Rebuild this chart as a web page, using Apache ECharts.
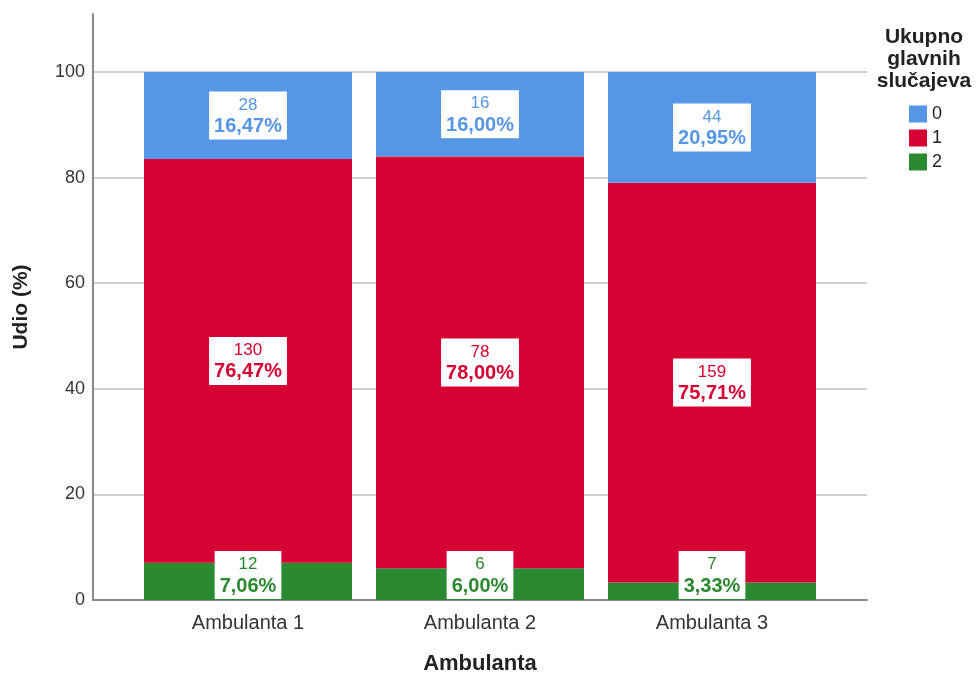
<!DOCTYPE html>
<html>
<head>
<meta charset="utf-8">
<script src="https://cdn.jsdelivr.net/npm/echarts@6/dist/echarts.min.js"></script>
<style>html,body{margin:0;padding:0;background:#fff}#c{width:978px;height:674px}</style>
</head>
<body>
<div id="c"></div>
<script>
const categories = ['Ambulanta 1', 'Ambulanta 2', 'Ambulanta 3'];
const seriesNames = ['0', '1', '2'];
const counts0 = [28, 16, 44];
const counts1 = [130, 78, 159];
const counts2 = [12, 6, 7];
const pct0 = [16.47, 16.00, 20.95];
const pct1 = [76.47, 78.00, 75.71];
const pct2 = [7.06, 6.00, 3.33];
const yTicks = [0, 20, 40, 60, 80, 100];

const colors = {'0': '#5596e6', '1': '#d60032', '2': '#2b892f'};
const FONT = 'Arial, "Liberation Sans", sans-serif';

function mk(name, counts, pcts, pos, dist) {
  const col = colors[name];
  return {
    name: name,
    type: 'bar',
    stack: 'total',
    xAxisIndex: 1,
    yAxisIndex: 1,
    barWidth: 208,
    itemStyle: {color: col},
    data: pcts,
    label: {
      show: true,
      position: pos,
      distance: dist,
      backgroundColor: '#fff',
      padding: [3, 5, 2, 5],
      fontFamily: FONT,
      formatter: (params) => '{a|' + counts[params.dataIndex] + '}\n{b|' + pcts[params.dataIndex].toFixed(2).replace('.', ',') + '%}',
      rich: {
        a: {color: col, fontSize: 17, fontFamily: FONT, lineHeight: 21, align: 'center'},
        b: {color: col, fontSize: 20, fontWeight: 'bold', fontFamily: FONT, lineHeight: 22, align: 'center'}
      }
    }
  };
}

const chart = echarts.init(document.getElementById('c'), null, {renderer: 'canvas'});
chart.setOption({
  animation: false,
  textStyle: {fontFamily: FONT},
  grid: [
    {left: 93, right: 111, top: 14, bottom: 74, containLabel: false, outerBoundsMode: 'none'},
    {left: 132, right: 150, top: 14, bottom: 74, containLabel: false, outerBoundsMode: 'none'}
  ],
  title: {
    text: 'Ukupno\nglavnih\nslučajeva',
    left: 919, top: 21, textAlign: 'center',
    textStyle: {fontSize: 21, fontWeight: 'bold', color: '#222', lineHeight: 22, fontFamily: FONT, align: 'center'}
  },
  legend: {
    data: seriesNames,
    orient: 'vertical',
    left: 904, top: 100,
    itemWidth: 18, itemHeight: 17, itemGap: 6,
    icon: 'rect',
    textStyle: {fontSize: 18, color: '#222', fontFamily: FONT}
  },
  xAxis: [
    {
      gridIndex: 0,
      type: 'category',
      data: categories,
      axisLine: {show: true, lineStyle: {color: '#888', width: 2}},
      axisTick: {show: false},
      axisLabel: {show: false},
      splitLine: {show: false}
    },
    {
      gridIndex: 1,
      type: 'category',
      data: categories,
      name: 'Ambulanta',
      nameLocation: 'middle',
      nameGap: 53,
      nameTextStyle: {fontSize: 22, fontWeight: 'bold', color: '#222', fontFamily: FONT},
      axisLine: {show: false},
      axisTick: {show: false},
      splitLine: {show: false},
      axisLabel: {fontSize: 20, color: '#333', margin: 13, fontFamily: FONT}
    }
  ],
  yAxis: [
    {
      gridIndex: 0,
      type: 'value',
      min: 0, max: 111, interval: 20,
      name: 'Udio (%)',
      nameLocation: 'middle',
      nameGap: 61,
      nameRotate: 90,
      nameTextStyle: {fontSize: 21, fontWeight: 'bold', color: '#222', fontFamily: FONT},
      axisLine: {show: true, lineStyle: {color: '#888', width: 2}},
      axisTick: {show: false},
      splitLine: {show: true, showMaxLine: false, lineStyle: {color: '#cfcfcf', width: 2}},
      axisLabel: {
        customValues: yTicks,
        fontSize: 18, color: '#333', margin: 8, fontFamily: FONT
      }
    },
    {
      gridIndex: 1,
      type: 'value',
      min: 0, max: 111,
      show: false,
      splitLine: {show: false}
    }
  ],
  series: [
    mk('2', counts2, pct2, 'insideBottom', 1),
    mk('1', counts1, pct1, 'inside', 5),
    mk('0', counts0, pct0, 'inside', 5)
  ]
});
</script>
</body>
</html>
